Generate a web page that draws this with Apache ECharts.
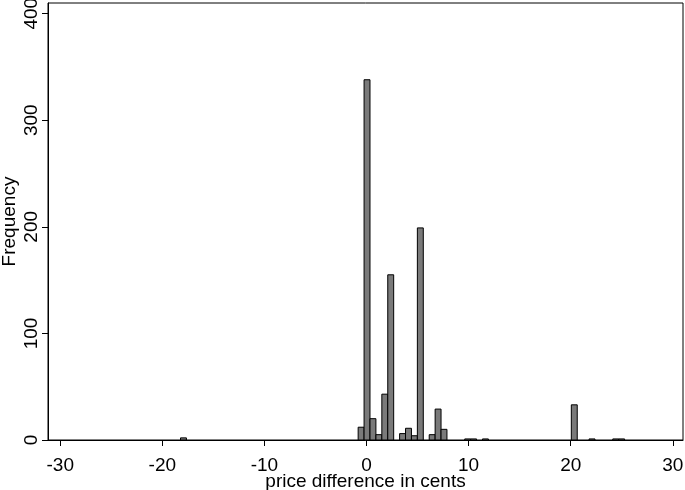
<!DOCTYPE html>
<html>
<head>
<meta charset="utf-8">
<script src="https://cdn.jsdelivr.net/npm/echarts@6/dist/echarts.min.js"></script>
<style>
html,body{margin:0;padding:0;background:#fff;}
#chart{width:685px;height:490px;}
</style>
</head>
<body>
<div id="chart"></div>
<script>
// Histogram bins (bin centres in cents) and frequencies
const binWidth = 0.58;
const binCenters = [-17.93, -0.53, 0.05, 0.63, 1.21, 1.79, 2.37, 3.53, 4.11, 4.69, 5.27, 6.43, 7.01, 7.59, 9.91, 10.49, 11.65, 20.35, 22.09, 24.41, 24.99];
const frequencies = [2, 12, 338, 20, 5, 43, 155, 6, 11, 4, 199, 5, 29, 10, 1, 1, 1, 33, 1, 1, 1];
const xTicks = [-30, -20, -10, 0, 10, 20, 30];
const yTicks = [0, 100, 200, 300, 400];
const xTitle = 'price difference in cents';
const yTitle = 'Frequency';

const data = binCenters.map((c, i) => [c, frequencies[i]]);
const font = "'Liberation Sans', Arial, Helvetica, sans-serif";

const chart = echarts.init(document.getElementById('chart'), null, {renderer: 'canvas'});
chart.setOption({
  animation: false,
  backgroundColor: '#fff',
  grid: {left: 48, right: 2, top: 3, bottom: 50, containLabel: false, outerBoundsMode: 'none',
         show: true, borderColor: '#000', borderWidth: 1, backgroundColor: 'transparent'},
  xAxis: {
    type: 'value', min: -31.2, max: 31,
    name: xTitle, nameLocation: 'middle', nameGap: 32, nameMoveOverlap: false,
    nameTextStyle: {color: '#000', fontSize: 19, fontFamily: font},
    axisLine: {show: true, onZero: false, lineStyle: {color: '#000', width: 1}},
    axisTick: {show: true, length: 6, lineStyle: {color: '#000'}, customValues: xTicks},
    axisLabel: {color: '#000', fontSize: 19, fontFamily: font, margin: 16, customValues: xTicks},
    splitLine: {show: false}
  },
  yAxis: {
    type: 'value', min: 0, max: 410,
    name: yTitle, nameLocation: 'middle', nameGap: 29, nameRotate: 90, nameMoveOverlap: false,
    nameTextStyle: {color: '#000', fontSize: 19, fontFamily: font},
    axisLine: {show: true, onZero: false, lineStyle: {color: '#000', width: 1}},
    axisTick: {show: true, length: 6, lineStyle: {color: '#000'}, customValues: yTicks},
    axisLabel: {color: '#000', fontSize: 19, fontFamily: font, rotate: 90, margin: 7, customValues: yTicks},
    splitLine: {show: false}
  },
  series: [{
    type: 'custom',
    data: data,
    encode: {x: 0, y: 1},
    renderItem: function (params, api) {
      const c = api.value(0), n = api.value(1);
      const p0 = api.coord([c - binWidth / 2, n]);
      const p1 = api.coord([c + binWidth / 2, 0]);
      return {
        type: 'rect',
        shape: {x: p0[0], y: p0[1], width: p1[0] - p0[0], height: p1[1] - p0[1]},
        style: {fill: '#7a7a7a', stroke: '#000', lineWidth: 1}
      };
    }
  }]
});
</script>
</body>
</html>
